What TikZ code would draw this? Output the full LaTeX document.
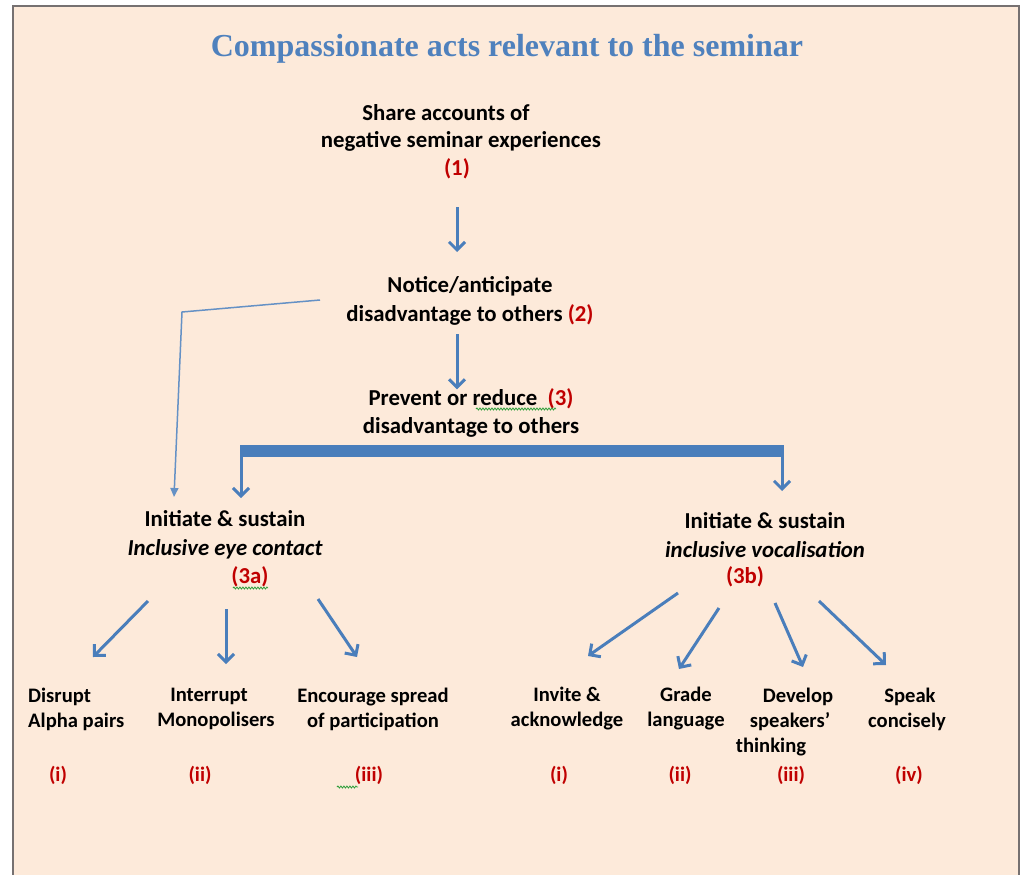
\documentclass[tikz,border=0pt]{standalone}
\usepackage{fontspec}
\setmainfont{Carlito}
\newfontfamily\titlefont{Liberation Serif}
\usetikzlibrary{arrows.meta,decorations.pathmorphing}
\definecolor{peach}{HTML}{FDEADA}
\definecolor{arrblue}{HTML}{4A7EBB}
\definecolor{titleblue}{HTML}{4F81BD}
\definecolor{numred}{HTML}{C00000}
\definecolor{framegrey}{HTML}{767171}
\definecolor{spellgreen}{HTML}{2E9E3A}
\tikzset{
  txt/.style={font=\bfseries\fontsize{22.8}{28.5}\selectfont, align=center, inner sep=0pt},
  leaf/.style={font=\bfseries\fontsize{20.6}{25}\selectfont, align=center, inner sep=0pt},
  num/.style={txt, text=numred},
  leafnum/.style={leaf, text=numred},
  arr/.style={arrblue, line width=3pt, -{Straight Barb[length=8pt,width=16pt]}},
  thinarr/.style={arrblue!85, line width=1.5pt, -{Triangle[length=9pt,width=8pt]}},
  spell/.style={spellgreen, line width=0.8pt, decorate, decoration={snake, amplitude=1pt, segment length=3pt}}
}
\begin{document}
\begin{tikzpicture}[x=1pt,y=-1pt]
  \useasboundingbox (0,0) rectangle (1020,875);
  \fill[white] (0,0) rectangle (1020,875);
  \draw[framegrey, line width=2pt, fill=peach] (13,890) -- (13,6) -- (1019,6) -- (1019,890);

  \node[font=\titlefont\bfseries\fontsize{32}{36}\selectfont, text=titleblue, inner sep=0pt] (title) at (507,49) {Compassionate acts relevant to the seminar};

  % top chain
  \node[txt] (share1) at (446,113) {Share accounts of};
  \node[txt] (share2) at (461,141) {negative seminar experiences};
  \node[num] (n1) at (457,169) {(1)};
  \node[txt] (notice) at (470,301) {Notice/anticipate\\disadvantage to others \textcolor{numred}{(2)}};
  \node[txt] (prevent) at (471,413) {Prevent or reduce\ \ \textcolor{numred}{(3)}\\disadvantage to others};

  \draw[arr] ([yshift=-38pt]n1.center) -- ([yshift=-83pt]n1.center);
  \draw[arr] (notice.south -| n1) ++(0,9) coordinate (p2s) -- ++(0,55) coordinate (p2e);

  % split
  \coordinate (barL) at (241,451);
  \coordinate (barR) at (782,451);
  \draw[arrblue, line width=12pt] (barL) -- (barR);
  \draw[arr] ([yshift=6pt]barL) -- ++(0,53);
  \draw[arr] ([yshift=6pt]barR) -- ++(0,46);

  \node[txt] (eye) at (225,535) {Initiate \& sustain\\\itshape Inclusive eye contact};
  \node[num] (n3a) at (250,577) {(3a)};
  \node[txt] (voc) at (765,535) {Initiate \& sustain\\\itshape inclusive vocalisation};
  \node[num] (n3b) at (745,577) {(3b)};

  \coordinate (kink) at (182,312);
  \draw[thinarr] (320,300) -- (kink) -- (174,497);

  % leaves
  \node[leaf, align=left, anchor=west] (disrupt) at (28,709) {Disrupt\\Alpha pairs};
  \node[leaf] (interrupt) at (216,709) {\hspace*{-14pt}Interrupt\\Monopolisers};
  \node[leaf] (encourage) at (373,709) {Encourage spread\\of participation};
  \node[leaf] (invite) at (567,709) {Invite \&\\acknowledge};
  \node[leaf] (grade) at (686,709) {Grade\\language};
  \node[leaf] (develop) at (790,722) {\hspace*{16pt}Develop\\speakers’\\\hspace*{-38pt}thinking};
  \node[leaf] (speak) at (907,709) {\hspace*{6pt}Speak\\concisely};

  \foreach \x/\lab/\nm in {58/(i)/ra, 200/(ii)/rb, 369/(iii)/rc, 559/(i)/rd, 680/(ii)/re, 791/(iii)/rf, 909/(iv)/rg}
    \node[leafnum] (\nm) at (\x,775) {\lab};

  % fans
  \draw[arr] (148,601) -- (93,657);
  \draw[arr] (226,609) -- (226,664);
  \draw[arr] (318,599) -- (357,657);
  \draw[arr] (678,593) -- (588,656);
  \draw[arr] (719,608) -- (679,669);
  \draw[arr] (775,603) -- (803,667);
  \draw[arr] (819,601) -- (886,665);

  % spell-check marks
  \draw[spell] (476,409) -- (556,409);
  \draw[spell] (233,588) -- (268,588);
  \draw[spell] (337,787) -- (358,787);
\end{tikzpicture}
\end{document}
